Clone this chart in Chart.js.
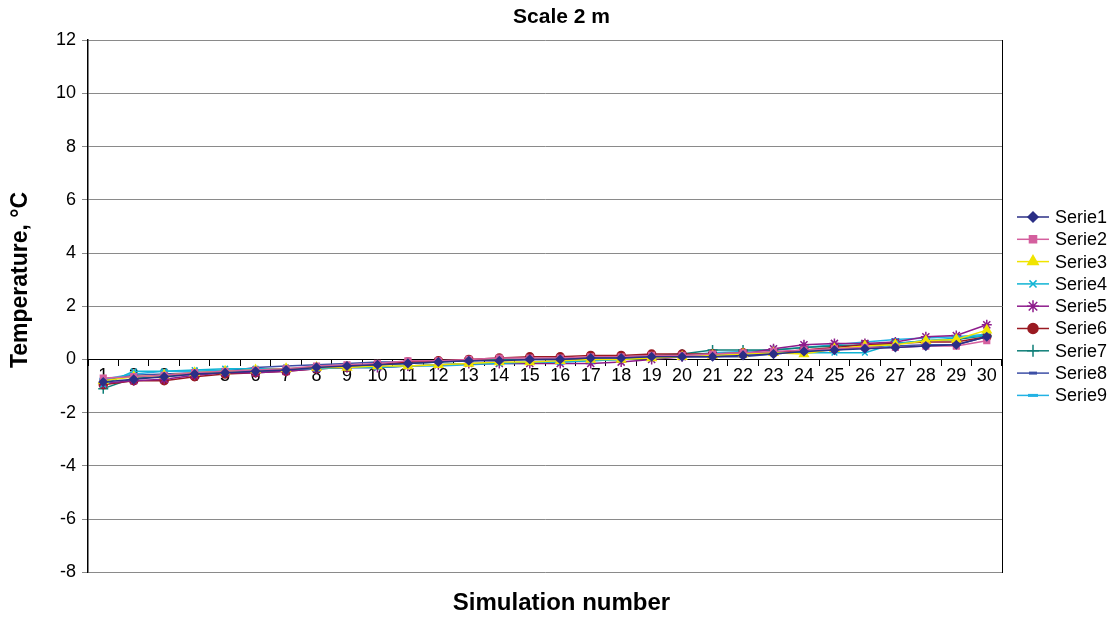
<!DOCTYPE html>
<html>
<head>
<meta charset="utf-8">
<script src="https://cdn.jsdelivr.net/npm/chart.js@4"></script>
<style>
  html, body { margin: 0; padding: 0; background: #fff; }
  #wrap { width: 1116px; height: 619px; }
</style>
</head>
<body>
<div id="wrap"><canvas id="myChart" width="1116" height="619"></canvas></div>
<script>
const simulations = [];
for (let i = 1; i <= 30; i++) simulations.push(String(i));

const yTicks = [-8, -6, -4, -2, 0, 2, 4, 6, 8, 10, 12];

const serie1 = [-0.85,-0.75,-0.65,-0.55,-0.5,-0.45,-0.4,-0.3,-0.25,-0.2,-0.15,-0.1,-0.05,-0.05,0,0,0.05,0.05,0.1,0.1,0.1,0.15,0.2,0.3,0.35,0.4,0.45,0.5,0.55,0.85];
const serie2 = [-0.7,-0.65,-0.6,-0.5,-0.45,-0.4,-0.35,-0.25,-0.2,-0.15,-0.05,-0.05,0,0.05,0.05,0.05,0.1,0.1,0.15,0.15,0.2,0.25,0.3,0.35,0.4,0.45,0.45,0.5,0.5,0.7];
const serie3 = [-0.8,-0.65,-0.6,-0.5,-0.45,-0.4,-0.35,-0.3,-0.3,-0.25,-0.25,-0.2,-0.15,-0.1,-0.1,-0.05,0,0,0.05,0.1,0.15,0.2,0.25,0.2,0.4,0.5,0.55,0.7,0.75,1.1];
const serie4 = [-0.95,-0.45,-0.45,-0.4,-0.35,-0.35,-0.35,-0.35,-0.3,-0.3,-0.25,-0.2,-0.15,-0.15,-0.1,-0.1,-0.05,0,0.05,0.1,0.15,0.2,0.25,0.25,0.25,0.25,0.6,0.7,0.8,0.9];
const serie5 = [-0.9,-0.8,-0.75,-0.6,-0.5,-0.5,-0.45,-0.35,-0.3,-0.3,-0.25,-0.2,-0.15,-0.15,-0.15,-0.15,-0.15,-0.1,0,0.1,0.15,0.2,0.4,0.55,0.6,0.6,0.65,0.85,0.9,1.3];
const serie6 = [-0.95,-0.8,-0.8,-0.65,-0.55,-0.5,-0.45,-0.35,-0.3,-0.2,-0.1,-0.05,0,0.05,0.1,0.1,0.15,0.15,0.2,0.2,0.2,0.25,0.25,0.35,0.45,0.55,0.6,0.65,0.65,0.85];
const serie7 = [-1.1,-0.7,-0.65,-0.55,-0.5,-0.45,-0.4,-0.3,-0.25,-0.2,-0.15,-0.1,-0.05,0,0,0.05,0.05,0.1,0.15,0.2,0.35,0.35,0.35,0.45,0.5,0.55,0.6,0.7,0.75,0.9];
const serie8 = [-0.8,-0.6,-0.55,-0.5,-0.45,-0.3,-0.25,-0.2,-0.15,-0.1,-0.1,-0.05,-0.05,0,0,0,0.05,0.05,0.1,0.1,0.1,0.1,0.2,0.3,0.35,0.45,0.5,0.55,0.55,0.85];
const serie9 = [-0.75,-0.55,-0.45,-0.45,-0.4,-0.35,-0.35,-0.3,-0.3,-0.3,-0.25,-0.25,-0.2,-0.15,-0.15,-0.1,-0.05,0,0.1,0.15,0.25,0.3,0.35,0.45,0.55,0.65,0.75,0.8,0.85,0.95];

const seriesNames = ['Serie1','Serie2','Serie3','Serie4','Serie5','Serie6','Serie7','Serie8','Serie9'];
const seriesData = [serie1, serie2, serie3, serie4, serie5, serie6, serie7, serie8, serie9];
const seriesColors = ['#2b2f86','#d45f9e','#f0e400','#10b4d4','#8e1c8c','#9a1a22','#0f7f78','#3d4fa6','#22b2e4'];
const seriesPoints = ['rectRot','rect','triangle','crossRot','star','circle','cross','line','line'];
const seriesRadius = [4, 4, 5, 4, 5, 4, 5, 3, 4];

const FONT = 'Arial, "Liberation Sans", sans-serif';

const datasets = seriesNames.map((name, i) => ({
    label: name,
    data: seriesData[i],
    borderColor: seriesColors[i],
    backgroundColor: seriesColors[i],
    pointStyle: seriesPoints[i],
    pointRadius: seriesRadius[i],
    pointBorderWidth: (seriesPoints[i] === 'line') ? 3 : 1.5,
    borderWidth: 1.5,
    fill: false,
    tension: 0
}));

// legend drawn by hand: short line with the marker in the middle
const sideLegend = {
    id: 'sideLegend',
    afterDraw(chart) {
        const ctx = chart.ctx;
        const x0 = 1017, x1 = 1049, top = 217, step = 22.3;
        ctx.save();
        chart.data.datasets.forEach((ds, i) => {
            const y = top + i * step;
            ctx.strokeStyle = ds.borderColor;
            ctx.lineWidth = 1.5;
            ctx.beginPath();
            ctx.moveTo(x0, y);
            ctx.lineTo(x1, y);
            ctx.stroke();
            ctx.fillStyle = ds.backgroundColor;
            ctx.strokeStyle = ds.borderColor;
            ctx.lineWidth = ds.pointBorderWidth;
            if (Chart.helpers && Chart.helpers.drawPoint) {
                Chart.helpers.drawPoint(ctx, {
                    pointStyle: ds.pointStyle,
                    radius: ds.pointRadius + 1,
                    rotation: 0,
                    borderWidth: ds.pointBorderWidth
                }, (x0 + x1) / 2, y);
            }
            ctx.fillStyle = '#000';
            ctx.font = '18px ' + FONT;
            ctx.textBaseline = 'middle';
            ctx.textAlign = 'left';
            ctx.fillText(ds.label, 1055, y + 1);
        });
        ctx.restore();
    }
};

// y axis title sits a bit above the middle of the axis, like the original
const yTitle = {
    id: 'yTitle',
    afterDraw(chart) {
        const ctx = chart.ctx;
        ctx.save();
        ctx.translate(21, 280);
        ctx.rotate(-Math.PI / 2);
        ctx.fillStyle = '#000';
        ctx.font = 'bold 23px ' + FONT;
        ctx.textAlign = 'center';
        ctx.textBaseline = 'middle';
        ctx.fillText('Temperature, °C', 0, 0);
        ctx.restore();
    }
};

new Chart(document.getElementById('myChart'), {
    type: 'line',
    data: { labels: simulations, datasets: datasets },
    options: {
        responsive: false,
        animation: false,
        layout: { padding: { left: 7, right: 0, top: 0, bottom: 0 } },
        plugins: {
            legend: { display: false },
            tooltip: { enabled: false },
            title: {
                display: true,
                text: 'Scale 2 m',
                color: '#000',
                font: { family: FONT, size: 21, weight: 'bold' },
                padding: { top: 5, bottom: 10 }
            },
            subtitle: {
                display: true,
                position: 'bottom',
                text: 'Simulation number',
                color: '#000',
                font: { family: FONT, size: 24, weight: 'bold' },
                padding: { top: 17, bottom: 1 }
            }
        },
        scales: {
            x: {
                position: { y: 0 },
                offset: true,
                grid: { offset: true, drawOnChartArea: false, drawTicks: true, tickLength: 6, color: '#000' },
                border: { display: true, color: '#000', width: 1 },
                ticks: {
                    color: '#000',
                    font: { family: FONT, size: 18 },
                    maxRotation: 0,
                    autoSkip: false,
                    padding: 0
                }
            },
            y: {
                min: -8,
                max: 12,
                afterBuildTicks(axis) { axis.ticks = yTicks.map(v => ({ value: v })); },
                afterFit(axis) { axis.width += 43; },
                grid: { color: '#8a8a8a', tickLength: 6, drawTicks: true, lineWidth: 1 },
                border: { display: true, color: '#000', width: 1.5 },
                ticks: {
                    color: '#000',
                    font: { family: FONT, size: 18 },
                    padding: 6
                }
            },
            y2: {
                position: 'right',
                min: -8,
                max: 12,
                afterFit(axis) { axis.width = 114; },
                grid: { drawOnChartArea: false, drawTicks: false },
                border: { display: true, color: '#000', width: 1 },
                ticks: { display: false }
            }
        }
    },
    plugins: [sideLegend, yTitle]
});
</script>
</body>
</html>
